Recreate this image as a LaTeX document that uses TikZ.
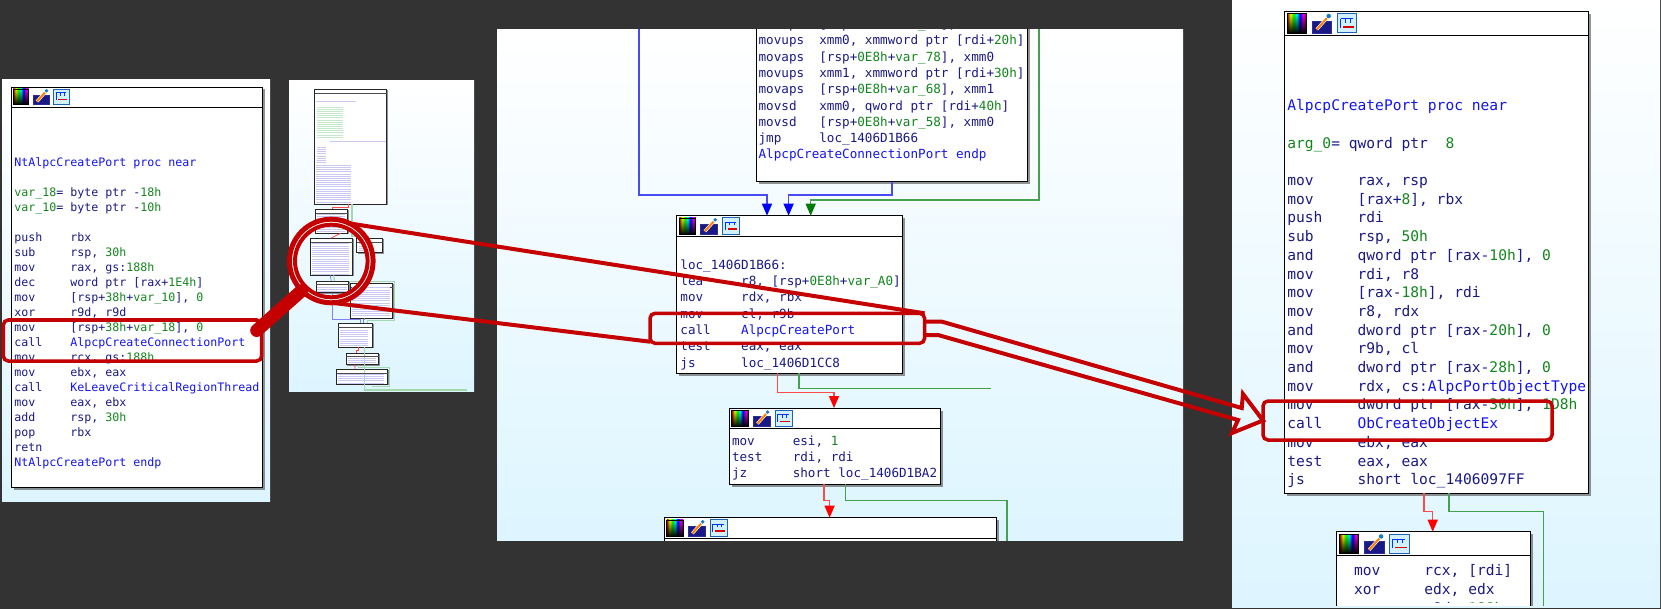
\documentclass[tikz,border=0pt]{standalone}
\usepackage{fontspec}
\setmonofont{DejaVu Sans Mono}
\usetikzlibrary{arrows.meta, positioning, shadows, fadings}

\definecolor{canvasgrey}{HTML}{333333}
\definecolor{panelblue}{HTML}{DDF5FF}
\definecolor{asmnavy}{HTML}{1A1A86}
\definecolor{asmgreen}{HTML}{14861E}
\definecolor{asmblue}{HTML}{1414F0}
\definecolor{edgeblue}{HTML}{4A4AF5}
\definecolor{edgegreen}{HTML}{45A04F}
\definecolor{edgered}{HTML}{FF4A4A}
\definecolor{tipblue}{HTML}{0000FF}
\definecolor{tipgreen}{HTML}{007A00}
\definecolor{tipred}{HTML}{FF0000}
\definecolor{calloutred}{HTML}{C40000}
\definecolor{thumbnavy}{HTML}{C8C8F2}
\definecolor{thumbgreen}{HTML}{C4E8CA}
\definecolor{thumbedge}{HTML}{A5D8AE}

\pgfdeclarehorizontalshading{iconrainbow}{100bp}{color(0bp)=(red!70!black); color(25bp)=(red!70!black); color(33bp)=(yellow); color(42bp)=(green); color(50bp)=(cyan); color(58bp)=(blue); color(67bp)=(magenta); color(75bp)=(red!60!black); color(100bp)=(red!60!black)}

\newcommand{\ins}[2]{\makebox[4.816em][l]{#1}#2}
\newcommand{\lit}[1]{\textcolor{asmgreen}{#1}}
\newcommand{\callee}[1]{\textcolor{asmblue}{#1}}
\newcommand{\blockhead}[3]{%
  \draw[headrule] ([yshift=-#2pt]#1.north west) -- ([yshift=-#2pt]#1.north east);
  \pic[scale=#3] at (#1.north west) {blockicons};}

\tikzset{
  blockicons/.pic={
    \shade[shading=iconrainbow] (2.3,2) rectangle (17.6,17.3);
    \fill[black, path fading=north] (2.3,2) rectangle (17.6,17.3);
    \draw[black, line width=.7pt] (2.3,2) rectangle (17.6,17.3);
    \fill[asmnavy] (22.3,8) rectangle (38,17.3);
    \draw[edgeblue!60!black, line width=.8pt] (22.3,8) rectangle (38,17.3);
    \draw[white, line width=3.2pt] (26,14.5) -- (34,5.5);
    \draw[orange, line width=2pt] (26,14.5) -- (34,5.5);
    \fill[cyan!60!blue] (35.5,3.8) circle (1.8);
    \fill[cyan!18] (42.3,2) rectangle (58,17.3);
    \draw[cyan!40!blue, line width=.9pt] (42.3,2) rectangle (58,17.3);
    \draw[blue!80!cyan, line width=1pt] (45,6) -- (55,6) (45,6) -- (45,13) (49,6) -- (49,9) (53,6) -- (53,9);
    \draw[red!85!black, line width=1.6pt] (47,12.5) -- (56,12.5);
  }
}

\begin{document}
\begin{tikzpicture}[
    x=1pt, y=-1pt,
    panel/.style={rectangle, anchor=north west, inner sep=0pt, outer sep=0pt, top color=white, bottom color=panelblue},
    blockframe/.style={rectangle, draw=black, line width=.9pt, fill=white, anchor=north west, inner sep=0pt, outer sep=0pt, drop shadow={shadow xshift=2.5pt, shadow yshift=-2.5pt, fill=black!70, opacity=.6}},
    thumbframe/.style={rectangle, draw=black!85, line width=.7pt, fill=white, anchor=north west, inner sep=0pt, outer sep=0pt, drop shadow={shadow xshift=1pt, shadow yshift=-1pt, fill=black!70, opacity=.6}},
    headrule/.style={draw=black, line width=.9pt},
    thumbrule/.style={draw=black!70, line width=.5pt},
    codetext/.style={anchor=north west, inner sep=0pt, outer sep=0pt, align=left, text=asmnavy, execute at begin node=\strut},
    smallcode/.style={codetext, font=\ttfamily\fontsize{11.63}{15}\selectfont},
    midcode/.style={codetext, font=\ttfamily\fontsize{12.62}{16.3}\selectfont},
    bigcode/.style={codetext, font=\ttfamily\fontsize{14.6}{18.7}\selectfont},
    thumbrows/.style={dash pattern=on .9pt off 1.25pt},
    blueflow/.style={draw=edgeblue, line width=1.4pt, -{Triangle[length=12pt, width=10pt, color=tipblue]}},
    greenflow/.style={draw=edgegreen, line width=1.4pt, -{Triangle[length=12pt, width=10pt, color=tipgreen]}},
    redflow/.style={draw=edgered, line width=1.4pt, -{Triangle[length=12pt, width=10pt, color=tipred]}},
    greenline/.style={draw=edgegreen, line width=1.4pt},
    thumbblue/.style={draw=edgeblue!70, line width=.8pt},
    thumbgreenline/.style={draw=thumbedge, line width=1.2pt},
    thumbredline/.style={draw=edgered, line width=.8pt},
    callout/.style={rectangle, draw=calloutred, line width=3.5pt, rounded corners=5pt, inner sep=0pt, outer sep=0pt},
    lensring/.style={circle, draw=calloutred, inner sep=0pt, outer sep=0pt},
    lensline/.style={draw=calloutred, line width=4pt},
]

% Background
\fill[canvasgrey] (0,0) rectangle (1661,609);
\useasboundingbox (0,0) rectangle (1661,609);

% Panels
\node[panel, minimum width=268pt, minimum height=421pt]    (leftpanel)  at (2,80)     {};
\node[panel, minimum width=185pt, minimum height=310pt]    (thumbpanel) at (289,81)   {};
\node[panel, minimum width=686pt, minimum height=510pt]    (midpanel)   at (497,30)   {};
\node[panel, minimum width=428pt, minimum height=607.5pt]  (rightpanel) at (1232,0)   {};

% Left block
\node[blockframe, minimum width=251pt, minimum height=400pt] (ntport) at (11,87) {};
\blockhead{ntport}{20}{1}
\node[smallcode] (ntporttext) at (14.3,157.8) {%
\callee{NtAlpcCreatePort proc near}\\[15pt]
\lit{var\_18}= byte ptr -\lit{18h}\\
\lit{var\_10}= byte ptr -\lit{10h}\\[15pt]
\ins{push}{rbx}\\
\ins{sub}{rsp, \lit{30h}}\\
\ins{mov}{rax, gs:\lit{188h}}\\
\ins{dec}{word ptr [rax+\lit{1E4h}]}\\
\ins{mov}{[rsp+\lit{38h}+\lit{var\_10}], \lit{0}}\\
\ins{xor}{r9d, r9d}\\
\ins{mov}{[rsp+\lit{38h}+\lit{var\_18}], \lit{0}}\\
\ins{call}{\callee{AlpcpCreateConnectionPort}}\\
\ins{mov}{rcx, gs:\lit{188h}}\\
\ins{mov}{ebx, eax}\\
\ins{call}{\callee{KeLeaveCriticalRegionThread}}\\
\ins{mov}{eax, ebx}\\
\ins{add}{rsp, \lit{30h}}\\
\ins{pop}{rbx}\\
retn\\
\callee{NtAlpcCreatePort endp}};

% Thumbnail nodes
\coordinate (thumbout) at (466.7,390);
\node[thumbframe, minimum width=72pt, minimum height=114.7pt] (thumba) at (314.7,89.3) {};
\node[thumbframe, minimum width=32pt, minimum height=24pt]    (thumbb) at (315.7,209.3) {};
\node[thumbframe, minimum width=42pt, minimum height=37pt]    (thumbc) at (310.7,238.3) {};
\node[thumbframe, minimum width=26pt, minimum height=14.4pt]  (thumbd) at (356.7,238.3) {};
\node[thumbframe, minimum width=32.4pt, minimum height=11.7pt] (thumbe) at (316.3,281) {};
\node[thumbframe, minimum width=42pt, minimum height=35pt]    (thumbf) at (350.7,283.3) {};
\node[thumbframe, minimum width=34.4pt, minimum height=24pt]  (thumbg) at (338.3,323.3) {};
\node[thumbframe, minimum width=32.4pt, minimum height=11.7pt] (thumbh) at (346.3,353) {};
\node[thumbframe, minimum width=51pt, minimum height=15pt]    (thumbi) at (336.7,369.3) {};

% Thumbnail arrows
\draw[thumbredline] ([xshift=34pt]thumba.south west) |- ([xshift=17pt,yshift=2pt]thumbb.north west) -- ([xshift=17pt]thumbb.north west);
\draw[thumbgreenline] ([xshift=37.3pt]thumba.south west) |- ([xshift=12pt,yshift=2pt]thumbd.north west) -- ([xshift=12pt]thumbd.north west);
\draw[thumbredline] ([xshift=20pt]thumbc.north west) -- ([xshift=25pt]thumbb.south west);
\draw[thumbblue] ([xshift=19.5pt]thumbc.south west) -- ([xshift=15pt]thumbe.north west);
\draw[thumbgreenline] ([xshift=23pt]thumbc.south west) -- ([xshift=18pt]thumbe.north west);
\draw[thumbblue] ([xshift=16pt]thumbe.south west) |- ([xshift=22pt,yshift=3.7pt]thumbg.north west) -- ([xshift=22pt]thumbg.north west);
\draw[thumbblue] ([xshift=14pt]thumbf.south west) |- ([xshift=25.5pt,yshift=3.7pt]thumbg.north west) -- ([xshift=25.5pt]thumbg.north west);
\draw[thumbgreenline] ([xshift=-2pt,yshift=2pt]thumbf.north west) -- ([xshift=2pt,yshift=2pt]thumbf.north east) |- ([xshift=29pt,yshift=2.5pt]thumbg.north west) -- ([xshift=29pt]thumbg.north west);
\draw[thumbredline] ([xshift=20pt]thumbg.south west) |- ([xshift=10pt,yshift=3pt]thumbh.north west) -- ([xshift=10pt]thumbh.north west);
\draw[thumbgreenline] ([xshift=26pt]thumbg.south west) |- (thumbout);
\draw[thumbredline] ([xshift=8.5pt]thumbh.south west) -- ([xshift=18.3pt]thumbi.north west);
\draw[thumbgreenline] ([xshift=12pt]thumbh.south west) |- ([xshift=2pt,yshift=2pt]thumbi.north east) |- ([xshift=-16pt,yshift=-2pt]thumbi.south east);

% Thumbnail headers and code rows
\draw[thumbrule] ([yshift=-4pt]thumba.north west) -- ([yshift=-4pt]thumba.north east);
\draw[thumbrule] ([yshift=-3.5pt]thumbb.north west) -- ([yshift=-3.5pt]thumbb.north east);
\draw[thumbrule] ([yshift=-4.3pt]thumbc.north west) -- ([yshift=-4.3pt]thumbc.north east);
\draw[thumbrule] ([yshift=-4.3pt]thumbd.north west) -- ([yshift=-4.3pt]thumbd.north east);
\draw[thumbrule] ([yshift=-3.5pt]thumbe.north west) -- ([yshift=-3.5pt]thumbe.north east);
\draw[thumbrule] ([yshift=-3.5pt]thumbf.north west) -- ([yshift=-3.5pt]thumbf.north east);
\draw[thumbrule] ([yshift=-3.5pt]thumbg.north west) -- ([yshift=-3.5pt]thumbg.north east);
\draw[thumbrule] ([yshift=-3.5pt]thumbh.north west) -- ([yshift=-3.5pt]thumbh.north east);
\draw[thumbrule] ([yshift=-3.5pt]thumbi.north west) -- ([yshift=-3.5pt]thumbi.north east);
\draw[thumbnavy, line width=40pt, thumbrows] (336,101.5) -- (336,102.6);
\draw[thumbgreen, line width=26pt, thumbrows] (329.5,106.7) -- (329.5,137);
\draw[thumbnavy, line width=56pt, thumbrows] (358,141.3) -- (358,142.4);
\draw[thumbnavy, line width=9pt, thumbrows] (321,147) -- (321,164);
\draw[thumbnavy, line width=35pt, thumbrows] (333.5,165) -- (333.5,203);
\draw[thumbnavy, line width=28pt, thumbrows] (331,214) -- (331,232);
\draw[thumbnavy, line width=37pt, thumbrows] (330,243.5) -- (330,274);
\draw[thumbnavy, line width=14pt, thumbrows] (366,243.5) -- (366,251.5);
\draw[thumbnavy, line width=30pt, thumbrows] (332,287) -- (332,292);
\draw[thumbnavy, line width=38pt, thumbrows] (371,287.5) -- (371,316.5);
\draw[thumbnavy, line width=28pt, thumbrows] (354,330) -- (354,346);
\draw[thumbnavy, line width=28pt, thumbrows] (361.5,358) -- (361.5,364);
\draw[thumbnavy, line width=46pt, thumbrows] (361,374) -- (361,384);

% Middle graph
\begin{scope}
\clip (497,30) rectangle (1183,540);
\coordinate (blueentry) at (639,20);
\coordinate (greenentry) at (1039,20);
\coordinate (greenexit) at (991,388.3);
\node[blockframe, minimum width=270.7pt, minimum height=211.7pt] (connport) at (756.8,-30) {};
\node[blockframe, minimum width=225.7pt, minimum height=157.6pt] (locport)  at (676.8,215.7) {};
\node[blockframe, minimum width=210.7pt, minimum height=76pt]    (esiblock) at (729.3,408) {};
\node[blockframe, minimum width=332pt, minimum height=60pt]      (nextblock) at (664.3,517.7) {};
\blockhead{locport}{20.3}{1.08}
\blockhead{esiblock}{20.3}{1.08}
\blockhead{nextblock}{20.6}{1.08}
\node[midcode] (connporttext) at (758.6,19) {%
\ins{movaps}{[rsp+\lit{0E8h}+\lit{var\_88}], xmm1}\\
\ins{movups}{xmm0, xmmword ptr [rdi+\lit{20h}]}\\
\ins{movaps}{[rsp+\lit{0E8h}+\lit{var\_78}], xmm0}\\
\ins{movups}{xmm1, xmmword ptr [rdi+\lit{30h}]}\\
\ins{movaps}{[rsp+\lit{0E8h}+\lit{var\_68}], xmm1}\\
\ins{movsd}{xmm0, qword ptr [rdi+\lit{40h}]}\\
\ins{movsd}{[rsp+\lit{0E8h}+\lit{var\_58}], xmm0}\\
\ins{jmp}{loc\_1406D1B66}\\
\callee{AlpcpCreateConnectionPort endp}};
\node[midcode] (locporttext) at (680.4,259.7) {%
loc\_1406D1B66:\\
\ins{lea}{r8, [rsp+\lit{0E8h}+\lit{var\_A0}]}\\
\ins{mov}{rdx, rbx}\\
\ins{mov}{cl, r9b}\\
\ins{call}{\callee{AlpcpCreatePort}}\\
\ins{test}{eax, eax}\\
\ins{js}{loc\_1406D1CC8}};
\node[midcode] (esiblocktext) at (732,435.7) {%
\ins{mov}{esi, \lit{1}}\\
\ins{test}{rdi, rdi}\\
\ins{jz}{short loc\_1406D1BA2}};

% Middle arrows
\draw[blueflow] (blueentry) |- ([xshift=90.2pt,yshift=20.7pt]locport.north west) -- ([xshift=90.2pt]locport.north west);
\draw[blueflow] ([xshift=135pt]connport.south west) |- ([xshift=111.8pt,yshift=20.7pt]locport.north west) -- ([xshift=111.8pt]locport.north west);
\draw[greenflow] (greenentry) |- ([xshift=133.9pt,yshift=15.7pt]locport.north west) -- ([xshift=133.9pt]locport.north west);
\draw[redflow] ([xshift=100.7pt]locport.south west) |- ([xshift=104.7pt,yshift=15.3pt]esiblock.north west) -- ([xshift=104.7pt]esiblock.north west);
\draw[greenline] ([xshift=122.2pt]locport.south west) |- (greenexit);
\draw[redflow] ([xshift=94.7pt]esiblock.south west) |- ([xshift=165.3pt,yshift=17pt]nextblock.north west) -- ([xshift=165.3pt]nextblock.north west);
\draw[greenline] ([xshift=116.1pt]esiblock.south west) |- ([xshift=10.6pt,yshift=17pt]nextblock.north east) -- ([xshift=10.6pt,yshift=-30pt]nextblock.north east);
\end{scope}

% Right graph
\begin{scope}
\clip (1232,0) rectangle (1660,605);
\node[blockframe, minimum width=304.4pt, minimum height=482pt] (createport) at (1284.3,11.3) {};
\node[blockframe, minimum width=194pt, minimum height=100pt]   (rcxblock)   at (1336.7,531.7) {};
\blockhead{createport}{23.7}{1.25}
\blockhead{rcxblock}{24}{1.25}
\node[bigcode] (createporttext) at (1287.3,99.6) {%
\callee{AlpcpCreatePort proc near}\\[18.7pt]
\lit{arg\_0}= qword ptr~~\lit{8}\\[18.7pt]
\ins{mov}{rax, rsp}\\
\ins{mov}{[rax+\lit{8}], rbx}\\
\ins{push}{rdi}\\
\ins{sub}{rsp, \lit{50h}}\\
\ins{and}{qword ptr [rax-\lit{10h}], \lit{0}}\\
\ins{mov}{rdi, r8}\\
\ins{mov}{[rax-\lit{18h}], rdi}\\
\ins{mov}{r8, rdx}\\
\ins{and}{dword ptr [rax-\lit{20h}], \lit{0}}\\
\ins{mov}{r9b, cl}\\
\ins{and}{dword ptr [rax-\lit{28h}], \lit{0}}\\
\ins{mov}{rdx, cs:\callee{AlpcPortObjectType}}\\
\ins{mov}{dword ptr [rax-\lit{30h}], \lit{1D8h}}\\
\ins{call}{\callee{ObCreateObjectEx}}\\
\ins{mov}{ebx, eax}\\
\ins{test}{eax, eax}\\
\ins{js}{short loc\_1406097FF}};
\begin{scope}
\clip (1336,555) rectangle (1532,602.5);
\node[bigcode] (rcxblocktext) at (1354,564.6) {%
\ins{mov}{rcx, [rdi]}\\
\ins{xor}{edx, edx}\\
\ins{mov}{r8d, \lit{188h}}};
\end{scope}

% Right arrows
\draw[redflow] ([xshift=139.7pt]createport.south west) |- ([xshift=96pt,yshift=20pt]rcxblock.north west) -- ([xshift=96pt]rcxblock.north west);
\draw[greenline] ([xshift=164.7pt]createport.south west) |- ([xshift=12.6pt,yshift=20pt]rcxblock.north east) -- ([xshift=12.6pt,yshift=-90pt]rcxblock.north east);
\end{scope}

% Callouts
\node[callout, minimum width=258.4pt, minimum height=41pt] (callleft)  at (132.5,340.5)  {};
\node[callout, minimum width=274.6pt, minimum height=30pt] (callmid)   at (787.3,328.3)  {};
\node[callout, minimum width=289pt, minimum height=39pt]   (callright) at (1407.5,420.5) {};

% Magnifier
\draw[white, opacity=.8, line width=3pt] (331.3,261) circle (39);
\node[lensring, line width=5pt, minimum size=83.6pt] (lens)      at (331.3,261) {};
\node[lensring, line width=4pt, minimum size=72.6pt] (lensinner) at (331.3,261) {};
\draw[draw=calloutred, line width=13pt, line cap=round] ([shift={(-5pt,10pt)}]callleft.east) -- (lens.225);
\draw[lensline] (lens.64) -- (callmid.north east);
\draw[lensline] (lens.271) -- ([yshift=1.6pt]callmid.south west);

% Big arrow
\coordinate (upperbend) at (942,321.7);
\coordinate (lowerbend) at (938,335);
\coordinate (upperneck) at (1241.7,408);
\coordinate (lowerneck) at (1238,420);
\coordinate (upperbarb) at (1243,394);
\coordinate (lowerbarb) at (1232,433);
\draw[draw=calloutred, line width=4pt] ([yshift=6.6pt]callmid.east) -- (upperbend) -- (upperneck) -- (upperbarb) -- (callright.west) -- (lowerbarb) -- (lowerneck) -- (lowerbend) -- ([yshift=-6.7pt]callmid.east);

\end{tikzpicture}
\end{document}
